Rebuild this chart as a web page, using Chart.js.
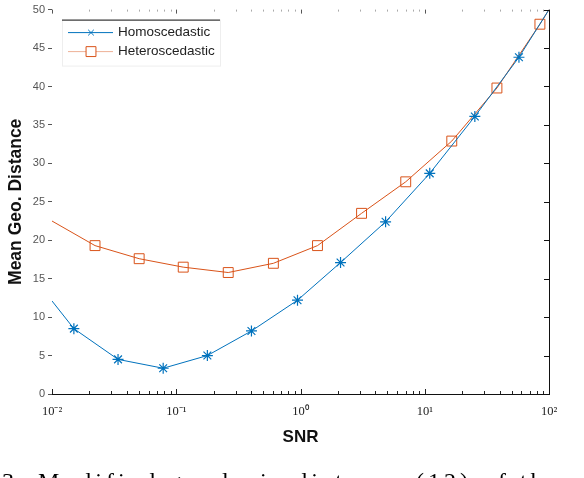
<!DOCTYPE html>
<html>
<head>
<meta charset="utf-8">
<script src="https://cdn.jsdelivr.net/npm/chart.js"></script>
<style>
  html, body { margin: 0; padding: 0; background: #fff; }
  canvas { display: block; }
</style>
</head>
<body>
<canvas id="chart" width="584" height="478"></canvas>
<script>
// values (SNR on a log axis)
const snrHomo = [0.01, 0.015, 0.034, 0.0785, 0.178, 0.403, 0.946, 2.1, 4.84, 10.97, 25.3, 57.3, 100];
const distHomo = [12.1, 8.5, 4.5, 3.35, 5.0, 8.2, 12.2, 17.1, 22.4, 28.7, 36.1, 43.8, 50];

const snrHetero = [0.01, 0.0222, 0.0503, 0.1138, 0.262, 0.605, 1.37, 3.1, 7.03, 16.5, 38.1, 84.5, 100];
const distHetero = [22.5, 19.3, 17.6, 16.5, 15.8, 17.0, 19.3, 23.5, 27.6, 32.9, 39.8, 48.1, 50];

const xTicks = [0.01, 0.1, 1, 10, 100];
const yTicks = [0, 5, 10, 15, 20, 25, 30, 35, 40, 45, 50];

const seriesNames = ['Homoscedastic', 'Heteroscedastic'];
const caption = '3. Modified geodesic distance (12) of the variable';

const BLUE = 'rgb(0,114,189)';
const ORANGE = 'rgb(217,83,25)';

const sup = { '-': '\u207B', '0': '\u2070', '1': '\u00B9', '2': '\u00B2', '3': '\u00B3' };
function powLabel(v) {
  const e = String(Math.round(Math.log10(v)));
  return '10' + e.split('').map(c => sup[c]).join('');
}

// markers are hidden at the axis limits, where the lines run out of the box
function markerSize(r) {
  return ctx => {
    const x = ctx.raw && ctx.raw.x;
    return (x <= 0.01 || x >= 100) ? 0 : r;
  };
}

// box, minor log ticks and inward ticks like the original figure
const framePlugin = {
  id: 'frame',
  afterDatasetsDraw(chart) {
    const { ctx, chartArea: a, scales: { x, y } } = chart;
    ctx.save();
    ctx.lineWidth = 1;

    // right border with inward ticks
    ctx.strokeStyle = '#111';
    ctx.beginPath();
    ctx.moveTo(a.right + 0.5, a.top);
    ctx.lineTo(a.right + 0.5, a.bottom);
    yTicks.forEach(v => {
      const py = Math.round(y.getPixelForValue(v)) + 0.5;
      ctx.moveTo(a.right, py);
      ctx.lineTo(a.right - 5, py);
    });
    ctx.stroke();

    // bottom and top log ticks
    for (let d = -2; d < 2; d++) {
      for (let m = 1; m < 10; m++) {
        const px = Math.round(x.getPixelForValue(m * Math.pow(10, d))) + 0.5;
        const len = m === 1 ? 5 : 3;
        ctx.strokeStyle = '#222';
        ctx.beginPath();
        ctx.moveTo(px, a.bottom);
        ctx.lineTo(px, a.bottom - len);
        ctx.stroke();
        ctx.strokeStyle = m === 1 ? '#555' : '#aaa';
        ctx.beginPath();
        ctx.moveTo(px, a.top);
        ctx.lineTo(px, a.top + (m === 1 ? 4 : 2));
        ctx.stroke();
      }
    }
    ctx.restore();
  }
};

const legendPlugin = {
  id: 'boxLegend',
  afterDraw(chart) {
    const { ctx, chartArea: a } = chart;
    const bx = a.left + 10, by = a.top + 10, bw = 158, bh = 46;
    ctx.save();
    ctx.fillStyle = '#fff';
    ctx.fillRect(bx, by, bw, bh);
    ctx.strokeStyle = '#eee';
    ctx.strokeRect(bx + 0.5, by + 0.5, bw, bh);
    ctx.strokeStyle = '#111';
    ctx.beginPath();
    ctx.moveTo(bx, by + 0.5);
    ctx.lineTo(bx + bw, by + 0.5);
    ctx.stroke();

    const styles = [
      { color: BLUE, point: 'crossRot', r: 4 },
      { color: ORANGE, point: 'rect', r: 7 }
    ];
    ctx.font = '13.5px "Liberation Sans", Arial, sans-serif';
    ctx.textBaseline = 'middle';
    seriesNames.forEach((name, i) => {
      const ly = by + 13 + i * 19;
      const st = styles[i];
      ctx.strokeStyle = i === 1 ? 'rgba(217,83,25,0.45)' : st.color;
      ctx.lineWidth = 1;
      ctx.beginPath();
      ctx.moveTo(bx + 6, ly);
      ctx.lineTo(bx + 51, ly);
      ctx.stroke();
      ctx.strokeStyle = st.color;
      ctx.fillStyle = '#fff';
      Chart.helpers.drawPoint(ctx, { pointStyle: st.point, radius: st.r, borderWidth: 1, rotation: 0 }, bx + 29, ly);
      ctx.fillStyle = '#222';
      ctx.fillText(name, bx + 56, ly);
    });
    ctx.restore();
  }
};

const captionPlugin = {
  id: 'caption',
  afterDraw(chart) {
    const { ctx } = chart;
    ctx.save();
    ctx.font = '24px "Liberation Serif", "Times New Roman", serif';
    ctx.fillStyle = '#000';
    ctx.textBaseline = 'alphabetic';
    if ('letterSpacing' in ctx) ctx.letterSpacing = '4px';
    ctx.fillText(caption, 2, 489);
    ctx.restore();
  }
};

const toPoints = (xs, ys) => xs.map((v, i) => ({ x: v, y: ys[i] }));

new Chart(document.getElementById('chart'), {
  type: 'line',
  data: {
    datasets: [
      {
        label: seriesNames[0],
        data: toPoints(snrHomo, distHomo),
        borderColor: BLUE,
        backgroundColor: BLUE,
        borderWidth: 1,
        pointStyle: 'star',
        pointRadius: markerSize(5.5),
        pointBorderColor: BLUE,
        pointBorderWidth: 1.2,
        tension: 0
      },
      {
        label: seriesNames[1],
        data: toPoints(snrHetero, distHetero),
        borderColor: ORANGE,
        backgroundColor: 'rgba(0,0,0,0)',
        borderWidth: 1,
        pointStyle: 'rect',
        pointRadius: markerSize(7),
        pointBorderColor: ORANGE,
        pointBackgroundColor: 'rgba(0,0,0,0)',
        pointBorderWidth: 1,
        tension: 0
      }
    ]
  },
  options: {
    responsive: false,
    animation: false,
    events: [],
    layout: { padding: { top: 6, right: 35, left: 0, bottom: 0 } },
    plugins: { legend: { display: false }, tooltip: { enabled: false } },
    scales: {
      x: {
        type: 'logarithmic',
        min: 0.01,
        max: 100,
        afterBuildTicks: s => { s.ticks = xTicks.map(v => ({ value: v })); },
        afterFit: s => { s.height = 84; },
        ticks: {
          callback: v => powLabel(v),
          autoSkip: false,
          maxRotation: 0,
          padding: 10,
          color: '#222',
          font: { family: '"Liberation Serif", "Times New Roman", serif', size: 12.5 }
        },
        grid: { display: true, drawOnChartArea: false, drawTicks: false },
        border: { display: true, color: '#111', width: 1 },
        title: {
          display: true,
          text: 'SNR',
          color: '#111',
          font: { family: '"Liberation Sans", Arial, sans-serif', size: 17, weight: 'bold' },
          padding: { top: 0, bottom: 30 }
        }
      },
      y: {
        min: 0,
        max: 50,
        afterBuildTicks: s => { s.ticks = yTicks.map(v => ({ value: v })); },
        afterFit: s => { s.width = 52; },
        ticks: {
          padding: 3,
          color: '#555',
          font: { family: '"Liberation Sans", Arial, sans-serif', size: 11 }
        },
        grid: { display: true, drawOnChartArea: false, drawTicks: true, tickLength: 4, color: '#555' },
        border: { display: false },
        title: {
          display: true,
          text: 'Mean Geo. Distance',
          color: '#111',
          font: { family: '"Liberation Sans", Arial, sans-serif', size: 17.5, weight: 'bold' },
          padding: { top: 6, bottom: 0 }
        }
      }
    }
  },
  plugins: [framePlugin, legendPlugin, captionPlugin]
});
</script>
</body>
</html>
